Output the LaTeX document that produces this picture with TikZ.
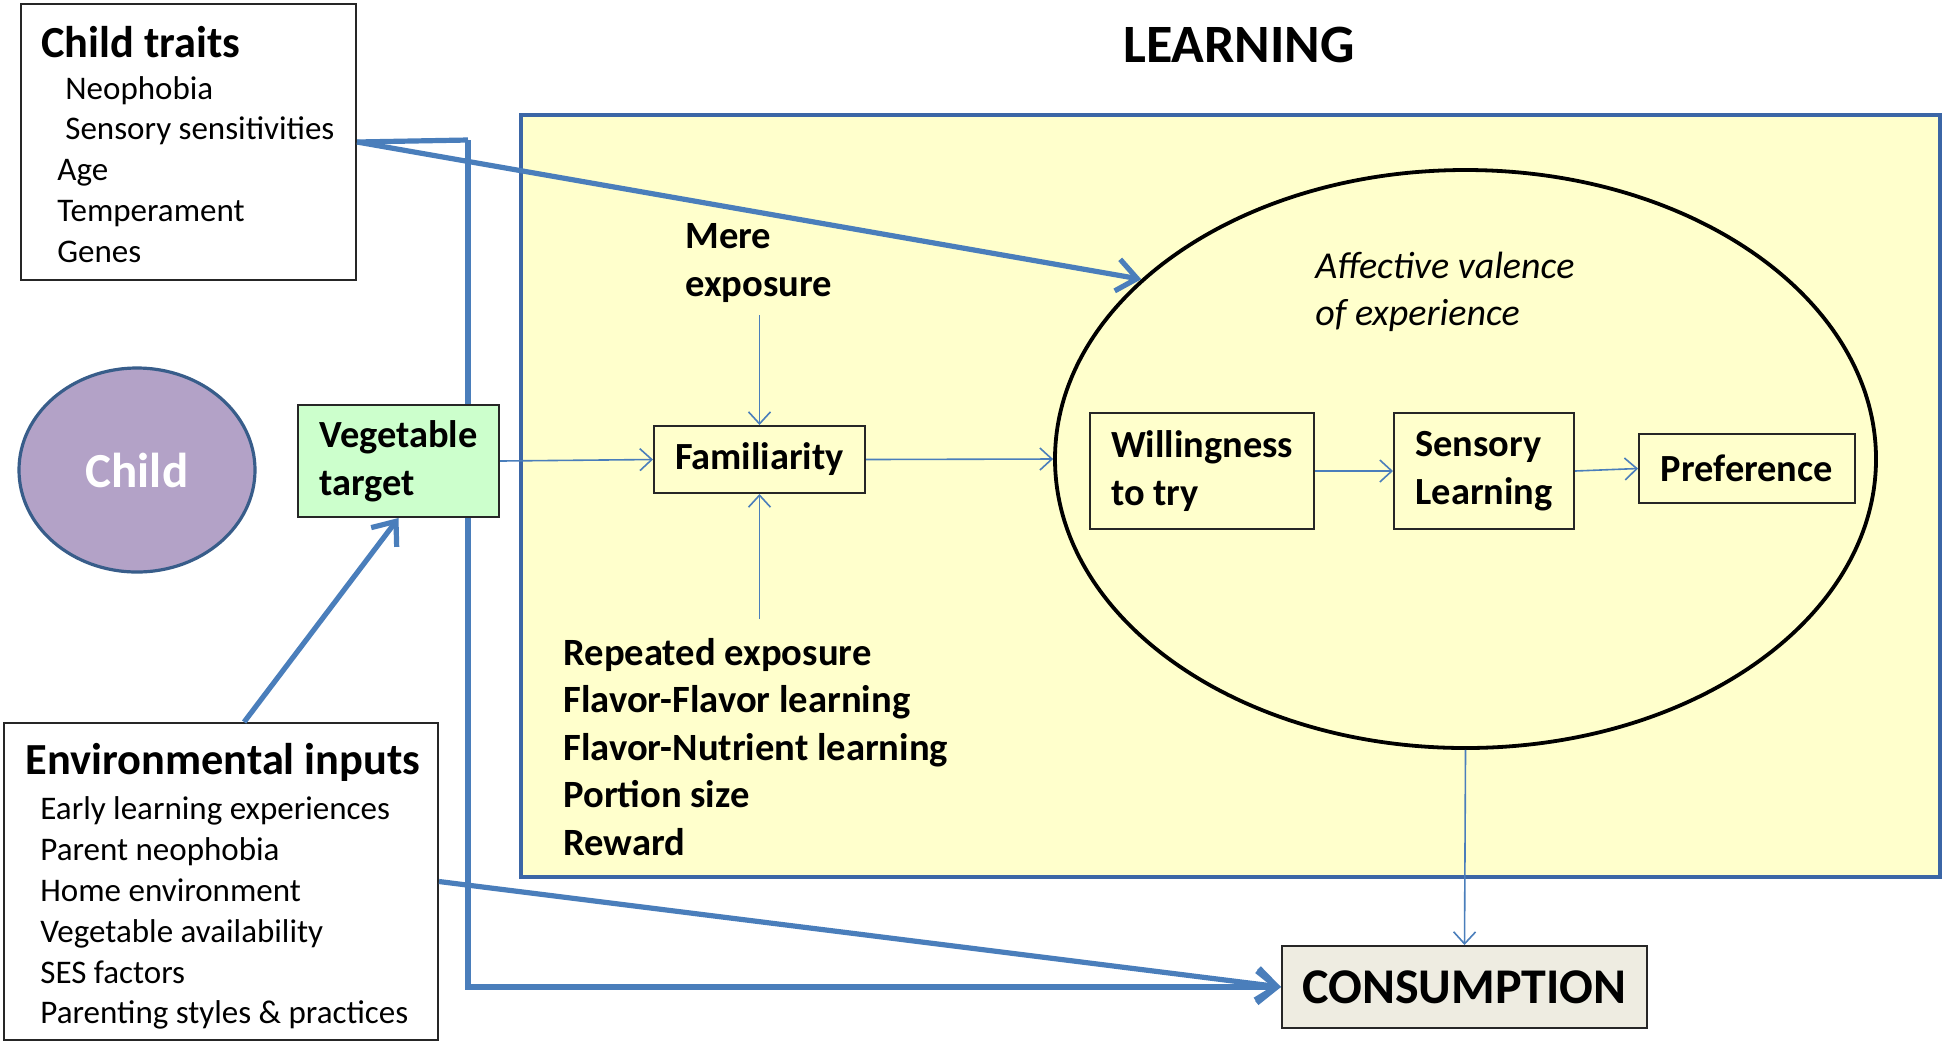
\documentclass[tikz,border=0pt]{standalone}
\usepackage{fontspec}
\setmainfont{Carlito}
\usetikzlibrary{arrows.meta,shapes.geometric,calc}
\definecolor{lineblue}{HTML}{4A7EBB}
\definecolor{boxblue}{HTML}{3B66A6}
\definecolor{learnyellow}{HTML}{FFFFCC}
\definecolor{childfill}{HTML}{B3A2C7}
\definecolor{childedge}{HTML}{385D8A}
\definecolor{vegfill}{HTML}{CCFFCC}
\definecolor{consfill}{HTML}{EEECE1}
\pgfdeclarelayer{behind}
\pgfsetlayers{behind,main}
\begin{document}
\begin{tikzpicture}[x=0.5pt,y=-0.5pt,
  plainbox/.style={draw=black!85,line width=1pt,inner sep=0pt},
  lbl/.style={font=\fontsize{19.2}{24}\selectfont\bfseries,align=left},
  item/.style={font=\fontsize{16.5}{20.5}\selectfont,anchor=base west,inner sep=0pt},
  head/.style={font=\fontsize{22.2}{26}\selectfont\bfseries,anchor=base west,inner sep=0pt},
  boldtxt/.style={font=\fontsize{19.3}{24}\selectfont\bfseries,anchor=base west,inner sep=0pt},
  thinarrow/.style={draw=lineblue,line width=0.8pt,-{Straight Barb[length=6pt,width=11pt]}},
  thickarrow/.style={draw=lineblue,line width=2.6pt,-{Straight Barb[length=10pt,width=16pt]}},
  thickline/.style={draw=lineblue,line width=2.6pt}]
\useasboundingbox (0,0) rectangle (1946,1046);

% learning area
\node[draw=boxblue,line width=2pt,fill=learnyellow,minimum width=709.5pt,minimum height=381pt,inner sep=0pt] (learn) at (1230.5,496) {};
\node[font=\fontsize{27}{31}\selectfont\bfseries,anchor=base,inner sep=0pt] (ltitle) at (1239,62) {LEARNING};

% child traits
\node[plainbox,minimum width=167.5pt,minimum height=138pt] (ct) at (188.5,142) {};
\node[head] (cth) at (41,57) {Child traits};
\node[item] (ct1) at (65,99) {Neophobia};
\node[item] (ct2) at (65,139) {Sensory sensitivities};
\node[item] (ct3) at (57,180) {Age};
\node[item] (ct4) at (57,221) {Temperament};
\node[item] (ct5) at (57,262) {Genes};

% child
\node[ellipse,draw=childedge,line width=1.6pt,fill=childfill,minimum width=118pt,minimum height=102pt,inner sep=0pt,text=white,font=\fontsize{24.5}{28}\selectfont\bfseries] (child) at (137,470) {Child};

% vegetable target
\node[plainbox,fill=vegfill,minimum width=100.5pt,minimum height=56pt,lbl] (veg) at (398.5,461) {Vegetable\\target};

% environmental inputs
\node[plainbox,minimum width=217pt,minimum height=158.5pt] (env) at (221,881.5) {};
\node[head] (envh) at (25,774) {Environmental inputs};
\node[item] (e1) at (40,819) {Early learning experiences};
\node[item] (e2) at (40,860) {Parent neophobia};
\node[item] (e3) at (40,901) {Home environment};
\node[item] (e4) at (40,942) {Vegetable availability};
\node[item] (e5) at (40,983) {SES factors};
\node[item] (e6) at (40,1023) {Parenting styles \& practices};

% familiarity and its inputs
\node[plainbox,minimum width=105.5pt,minimum height=33.5pt,lbl] (fam) at (759.5,459.5) {Familiarity};
\node[boldtxt,align=left] (mere) at (685,296) {Mere\\exposure};
\node[boldtxt,align=left] (rep) at (563,855) {Repeated exposure\\[-0.25pt]Flavor-Flavor learning\\[-0.25pt]Flavor-Nutrient learning\\[-0.25pt]Portion size\\[-0.25pt]Reward};

% affective valence ellipse
\node[ellipse,draw=black,line width=1.9pt,minimum width=410.5pt,minimum height=289pt,inner sep=0pt] (ell) at (1465.5,459) {};
\node[font=\fontsize{19}{23.5}\selectfont\itshape,anchor=base west,inner sep=0pt,align=left] (aff) at (1315,325) {Affective valence\\of experience};
\node[plainbox,minimum width=112pt,minimum height=58pt,lbl] (will) at (1202,471) {Willingness\\to try};
\node[plainbox,minimum width=90pt,minimum height=58pt,lbl] (sens) at (1484,471) {Sensory\\Learning};
\node[plainbox,minimum width=108pt,minimum height=34.5pt,lbl] (pref) at (1747,468.5) {Preference};

% consumption
\node[plainbox,fill=consfill,minimum width=182.5pt,minimum height=41pt,font=\fontsize{25}{30}\selectfont\bfseries] (cons) at (1464.5,987) {CONSUMPTION};

% thin connectors
\draw[thinarrow] (veg.east) -- (fam.west);
\draw[thinarrow] (fam.east) -- (ell.west);
\draw[thinarrow] ($(fam.north)+(0,-110)$) -- (fam.north);
\draw[thinarrow] ($(fam.south)+(0,125)$) -- (fam.south);
\draw[thinarrow] (will.east) -- (sens.west);
\draw[thinarrow] (sens.east) -- (pref.west);
\draw[thinarrow] (ell.south) -- (cons.north);

% thick connectors
\coordinate (trunk) at (468,140);
\begin{pgfonlayer}{behind}
\draw[thickline] (ct.east) -- (trunk);
\draw[thickarrow] (trunk) -- (trunk |- cons.west) -- (cons.west);
\end{pgfonlayer}
\draw[thickarrow] (ct.east) -- (ell.151);
\draw[thickarrow] ($(env.north west)!0.553!(env.north east)$) -- (veg.south);
\draw[thickarrow] (env.east) -- (cons.west);
\end{tikzpicture}
\end{document}
